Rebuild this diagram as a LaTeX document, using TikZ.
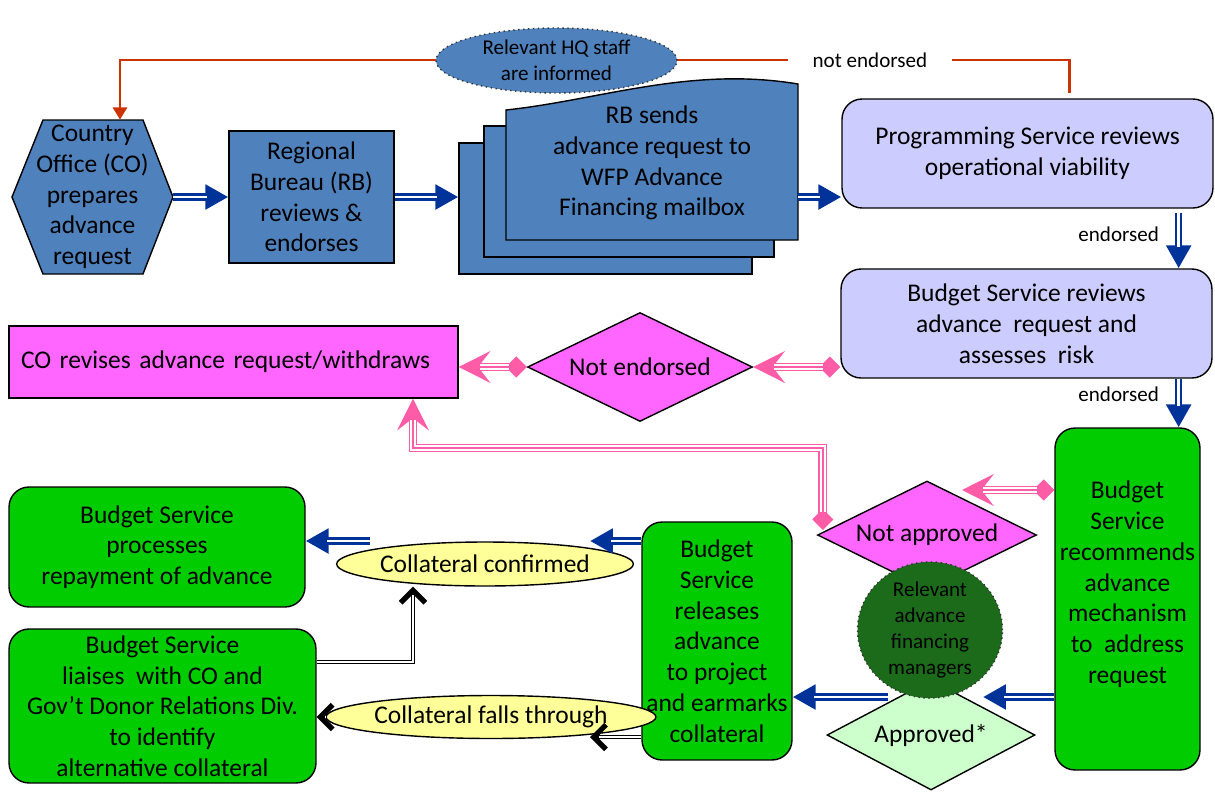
\documentclass[tikz,border=0pt]{standalone}
\usepackage{fontspec}
\setmainfont{Carlito}
\usetikzlibrary{arrows.meta,shapes.geometric,calc}

\definecolor{boxblue}{HTML}{4F81BD}
\definecolor{arrowblue}{HTML}{003399}
\definecolor{lavender}{HTML}{CCCCFF}
\definecolor{magentabox}{HTML}{FF66FF}
\definecolor{pinkline}{HTML}{FF5CA8}
\definecolor{brightgreen}{HTML}{00CC00}
\definecolor{darkgreen}{HTML}{1B6B1B}
\definecolor{palegreen}{HTML}{CCFFCC}
\definecolor{paleyellow}{HTML}{FFFF99}
\definecolor{redline}{HTML}{CC3300}

\tikzset{
  txt/.style={font=\fontsize{14.5}{17.5}\selectfont, align=center, inner sep=0pt},
  small/.style={font=\fontsize{12}{14.8}\selectfont, align=center, inner sep=0pt},
  box/.style={txt, draw=black, line width=0.8pt},
  bluebox/.style={box, rectangle, fill=boxblue},
  docbox/.style={box, rectangle, fill=boxblue},
  roundbox/.style={box, rectangle, rounded corners=0.4cm},
  lavbox/.style={roundbox, fill=lavender},
  greenbox/.style={roundbox, fill=brightgreen},
  pinkbox/.style={box, rectangle, fill=magentabox},
  decision/.style={box, diamond, aspect=2, fill=magentabox},
  colell/.style={box, ellipse, fill=paleyellow},
  cloud/.style={small, ellipse, draw=black!80, dotted, line width=0.8pt},
  bluearrow/.style={draw=arrowblue, line width=4.2pt, -{Triangle[length=13pt,width=13.5pt]},
    postaction={draw=white, line width=1.4pt, -, shorten >=12pt}},
  pinkarrow/.style={draw=pinkline, line width=5pt,
    {Diamond[length=12pt,width=12pt]}-{Stealth[length=18pt,width=18pt,inset=7pt]},
    postaction={draw=white, line width=3.2pt, -, shorten <=10pt, shorten >=12pt},
    postaction={draw=pinkline, line width=1pt, -, shorten <=10pt, shorten >=12pt}},
  blackarrow/.style={draw=black, line width=2.6pt, -{Straight Barb[length=7pt,width=14pt,line width=3pt]},
    postaction={draw=white, line width=1.2pt, -, shorten >=5pt}},
  redarrow/.style={draw=redline, line width=1.7pt, -{Triangle[length=7pt,width=8pt]}}
}

\begin{document}
\begin{tikzpicture}[x=0.02cm, y=-0.02cm]
\useasboundingbox (0,0) rectangle (1215,792);

% top row
\draw[fill=boxblue, line width=0.8pt] (12,197) -- (43,120) -- (143,120) -- (173,197)
  -- (143,274) -- (43,274) -- cycle;
\node[txt, minimum width=3.22cm, minimum height=3.08cm] (co) at (92.5,197)
  {Country\\ Office (CO)\\ prepares\\ advance\\ request};
\node[bluebox, minimum width=3.3cm, minimum height=2.64cm] (rb) at (311.5,197)
  {Regional\\ Bureau (RB)\\ reviews \&\\ endorses};
\node[docbox, minimum width=5.86cm, minimum height=2.62cm] (docA) at (605.5,208.5) {};
\node[docbox, minimum width=5.8cm, minimum height=2.62cm] (docB) at (629,191.5) {};
\draw[fill=boxblue, line width=0.8pt] (506,240) -- (506,110)
  .. controls (600,100) and (690,66) .. (798,84) -- (798,240) -- cycle;
\node[txt, minimum width=5.84cm] (docC) at (652,163)
  {RB sends\\ advance request to\\ WFP Advance\\ Financing mailbox};
\node[lavbox, minimum width=7.42cm, minimum height=2.18cm] (ps) at (1027.5,153.5)
  {Programming Service reviews\\ operational viability};

% middle row
\node[lavbox, minimum width=7.42cm, minimum height=2.18cm] (bsr) at (1026.5,323.5)
  {Budget Service reviews\\ advance~ request and\\ assesses~ risk};
\node[decision, aspect=2.06, minimum width=4.5cm, minimum height=2.18cm] (notend) at (640,367) {Not endorsed};
\node[pinkbox, minimum width=8.98cm, minimum height=1.44cm, text width=8.5cm, align=left] (corev)
  at (233.5,362) {CO revises advance request/withdraws};

% bottom row
\node[greenbox, minimum width=2.9cm, minimum height=6.84cm, text depth=0.67cm] (rec) at (1127.5,599)
  {Budget\\ Service\\ recommends\\ advance\\ mechanism\\ to~ address\\ request};
\node[decision, aspect=2.03, minimum width=4.38cm, minimum height=2.16cm] (notappr) at (927,535) {Not approved};
\node[decision, aspect=1.9, fill=palegreen, minimum width=4.16cm, minimum height=2.2cm] (appr) at (931,735)
  {Approved*};
\node[cloud, fill=darkgreen, minimum width=2.9cm, minimum height=2.28cm] (mgr) at (930,630)
  {Relevant\\ advance\\ financing\\ managers};
\node[greenbox, minimum width=3cm, minimum height=4.76cm] (rel) at (717,641)
  {Budget\\ Service\\ releases\\ advance\\ to project\\ and earmarks\\ collateral};
\node[colell, minimum width=5.04cm, minimum height=0.88cm] (colconf) at (485,564) {Collateral confirmed};
\node[colell, minimum width=4.84cm, minimum height=0.86cm] (falls) at (491,717) {Collateral falls through};
\node[greenbox, minimum width=5.92cm, minimum height=2.4cm] (proc) at (157,547)
  {Budget Service\\ processes\\ repayment of advance};
\node[greenbox, minimum width=6.14cm, minimum height=3.08cm] (liai) at (162.5,706)
  {Budget Service\\ liaises~ with CO and\\ Gov’t Donor Relations Div.\\ to identify\\ alternative collateral};

% free ends of connectors
\coordinate (redbend) at (120,60);
\coordinate (napin) at (962,490);
\coordinate (aprin) at (983,697);
\coordinate (aprout) at (888,697);
\coordinate (ccin) at (590,541);
\coordinate (ccout) at (370,541);
\coordinate (cfin) at (590,737);
\coordinate (pinkbend) at (413,448);
\coordinate (blackbend) at (413,662);

% not endorsed loop back to the CO
\draw[redarrow] ([xshift=4.56cm,yshift=0.1cm]ps.north west) |-
  node[pos=0.605, small, fill=white, inner xsep=0.49cm, inner ysep=0.1cm] {not endorsed} (redbend)
  -- (redbend |- co.north);
\node[cloud, fill=boxblue, minimum width=4.82cm, minimum height=1.3cm] (hq) at (556.5,60.5)
  {Relevant HQ staff\\ are informed};

% blue flow
\draw[bluearrow] (co.east) -- (rb.west);
\draw[bluearrow] (rb.east) -- (rb.east -| docA.west);
\draw[bluearrow] (docC.east |- rb.east) -- (ps.west |- rb.east);
\draw[bluearrow] ([xshift=-0.7cm,yshift=-0.08cm]ps.south east) --
  node[pos=0.38, left=0.32cm, small] {endorsed} ([xshift=-0.7cm]ps.south east |- bsr.north);
\draw[bluearrow] ([xshift=-0.68cm]bsr.south east) --
  node[pos=0.32, left=0.32cm, small] {endorsed} ([xshift=-0.68cm]bsr.south east |- rec.north);
\draw[bluearrow] (rec.west |- aprin) -- (aprin);
\draw[bluearrow] (aprout) -- (rel.east |- aprout);
\draw[bluearrow] (rel.west |- ccin) -- (ccin);
\draw[bluearrow] (ccout) -- (proc.east |- ccout);

% pink flow
\draw[pinkarrow] (bsr.west |- notend.east) -- (notend.east);
\draw[pinkarrow] (notend.west) -- (corev.east |- notend.west);
\draw[pinkarrow] (rec.west |- napin) -- (napin);
\draw[pinkarrow] ([xshift=0.12cm,yshift=0.1cm]notappr.west) |- (pinkbend) -- (pinkbend |- corev.south);

% black flow
\draw[blackarrow] (liai.east |- blackbend) -- (blackbend) -- (blackbend |- colconf.south);
\draw[blackarrow] (rel.west |- cfin) -- (cfin);
\draw[blackarrow] (falls.west) -- (liai.east |- falls.west);
\end{tikzpicture}
\end{document}
